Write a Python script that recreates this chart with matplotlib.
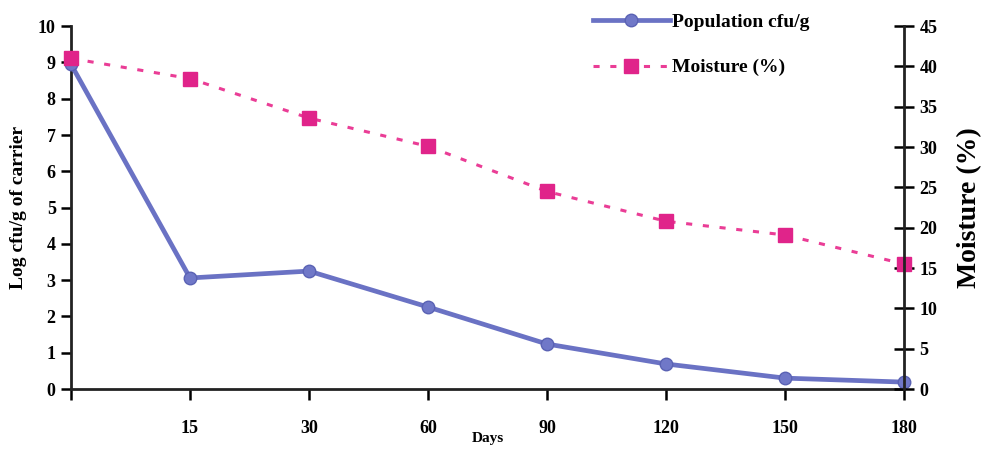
import matplotlib.pyplot as plt
import numpy as np

plt.rcParams["font.family"] = ["Liberation Serif", "DejaVu Serif"]
plt.rcParams["font.weight"] = "bold"

days = ["", "15", "30", "60", "90", "120", "150", "180"]
population = [8.95, 3.06, 3.25, 2.26, 1.24, 0.69, 0.30, 0.19]
moisture = [41.0, 38.5, 33.6, 30.1, 24.5, 20.8, 19.1, 15.5]

x = np.arange(len(days))

fig = plt.figure(figsize=(10, 4.59), dpi=100)
ax = fig.add_axes([0.071, 0.1525, 0.833, 0.7905])
ax2 = ax.twinx()

ax.plot(x, population, color="#6a72c4", lw=3.4, marker="o", ms=9,
        mfc="#7078c8", mec="#5a62b4", label="Population cfu/g",
        zorder=3, clip_on=False)
ax2.plot(x, moisture, color="#ea3d96", lw=2.2, ls=(0, (2, 3.5)),
         marker="s", ms=10, mfc="#e0248a", mec="#e0248a",
         label="Moisture (%)", clip_on=False)

ax.set_xlim(0, 7)
ax.set_ylim(0, 10)
ax2.set_ylim(0, 45)
ax.set_xticks(x)
ax.set_xticklabels(days)
ax.set_yticks(range(0, 11))
ax2.set_yticks(range(0, 46, 5))

for a in (ax, ax2):
    a.spines["top"].set_visible(False)
ax.spines["right"].set_visible(False)
ax2.spines["left"].set_visible(False)
ax2.spines["bottom"].set_visible(False)
for a in (ax, ax2):
    for s in a.spines.values():
        s.set_linewidth(2)
        s.set_color("#222222")

ax.tick_params(axis="y", direction="out", length=7, width=1.8, labelsize=13, pad=4)
ax.tick_params(axis="x", direction="out", length=8, width=1.8, labelsize=13, pad=14)
ax2.tick_params(axis="y", direction="inout", length=14, width=1.8, labelsize=13, pad=4)

ax.set_ylabel("Log cfu/g of carrier", fontsize=14, fontweight="bold", labelpad=8)
ax.set_xlabel("Days", fontsize=11, fontweight="bold", labelpad=-3)
ax2.set_ylabel("Moisture (%)", fontsize=20, fontweight="bold", labelpad=14)

handles = ax.get_legend_handles_labels()[0] + ax2.get_legend_handles_labels()[0]
labels = ["Population cfu/g", "Moisture (%)"]
fig.legend(handles, labels, loc="upper left", bbox_to_anchor=(0.575, 1.01),
           frameon=False, fontsize=14, handlelength=4, labelspacing=1.45,
           handletextpad=0.1)

fig.savefig("out.png", dpi=100)
